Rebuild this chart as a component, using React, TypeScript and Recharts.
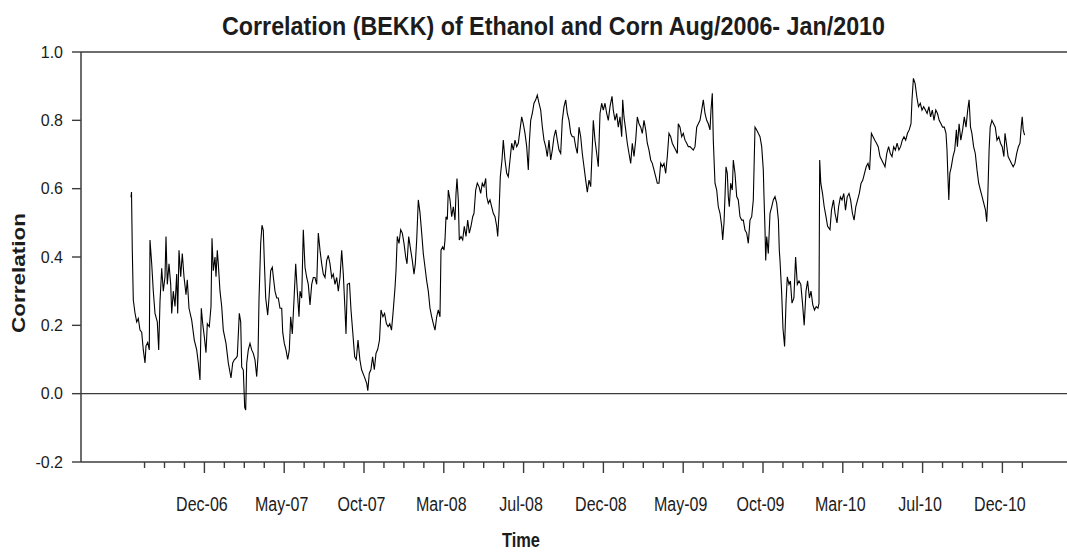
import React from 'react';
import { LineChart, Line, XAxis, YAxis, ReferenceLine } from 'recharts';

// Observation position (trading-day offset from first observation, Aug-2006)
const obsDay: number[] = [
  0, 0.5, 1.3, 2.3, 4, 5.7, 7.3, 9, 10.7, 12.3, 14, 15, 16.7, 18.3, 19, 20.7, 22.3, 24, 26.3, 27.7,
  29, 30.7, 32.3, 34, 35, 36.3, 38, 39.7, 40.7, 42.3, 44, 45.7, 46.7, 48, 49.7, 51.3, 53, 55, 56.3, 58,
  60.7, 63.3, 65.7, 67.3, 69, 70.3, 71.7, 73.3, 75, 76.3, 78.3, 80, 81, 82.3, 84, 85, 86.3, 87.3, 89, 90.7,
  92.3, 95, 97.3, 100, 101.7, 103.3, 105, 106.3, 108.3, 109.7, 110.7, 112.3, 113.7, 114.7, 115.7, 117.3, 119, 120.7, 122.3, 124,
  125.7, 127, 128, 129.7, 131, 132.3, 133.3, 134.7, 136.7, 138, 139.7, 141.3, 142.3, 144, 145.7, 147.3, 149, 150.7, 151.7, 153.3,
  155, 156.7, 158.3, 159.7, 161.3, 163, 164.7, 166.3, 168, 169, 170.7, 172.3, 174, 175.7, 177.3, 179, 180.7, 182.3, 184, 185.7,
  187.3, 189, 190.7, 192.3, 194, 195.7, 197.3, 199, 200.7, 202.3, 204, 205.7, 207.3, 209, 210.7, 212.3, 214, 215, 216.3, 218.5,
  220, 223.7, 225.3, 227, 228.9, 230.6, 233.3, 235.7, 236.8, 238.3, 239.9, 241.6, 243.3, 245, 246.7, 248.5, 250, 251.9, 253.6, 255.4,
  257.1, 258.8, 260.5, 262, 264, 265, 266.3, 268, 269.7, 271.3, 273, 274.7, 276, 277.7, 279.7, 281.3, 283, 284.3, 285.7, 287.3,
  289, 290.7, 292.3, 294, 295.7, 297.3, 299, 300.7, 302.3, 304, 305.7, 307.3, 309, 310, 311.7, 313, 314, 315, 316.3, 317.3,
  319, 320.7, 322.3, 324, 325, 326, 327.3, 328.3, 330, 331.7, 333.3, 335, 336.7, 338.3, 340, 341.7, 343, 344.7, 346.3, 348,
  349.7, 351.3, 353, 354.7, 355.7, 357.3, 359, 360.7, 362.3, 364, 365.7, 366.7, 368, 369.3, 371, 372.3,
  374, 375.7, 377.3, 379, 380.7, 382.3, 384, 385.7, 387.3, 389, 390.7, 392.3, 394, 395.7, 397.3, 398.3, 399.7, 401.3, 403, 404.7,
  406.3, 408, 409.7, 411.3, 413, 414.7, 416.3, 418, 419.7, 421.3, 423, 424.7, 426.3, 428, 429.7, 431.3, 433, 434.7, 436.3, 438,
  439.7, 441.3, 443, 444.7, 446.3, 448, 449.7, 451.3, 453, 454.7, 456.3, 458, 459.7, 461.3, 462.3, 464, 465.7, 467.3, 469, 470.7,
  472.3, 474, 475.7, 477.3, 479, 481, 482.3, 484, 485.7, 487.3, 489, 490.7, 491.7, 493, 494.7, 496.3, 498, 499.7, 501.3, 503,
  504.7, 506.3, 508, 509.7, 511.3, 513, 514.7, 516.3, 518, 519.7, 521.3, 523, 524.7, 526.3, 528, 529.7, 531.3, 533, 534.7, 536.3,
  538, 539.7, 541.3, 543, 544.7, 546.3, 547.3, 549, 550.7, 552.3, 554, 555.7, 557.3, 559, 560.7, 562.3, 564, 565.7, 567.3, 569,
  570.7, 572.3, 574, 575.7, 577.3, 579, 580, 581.3, 582.3, 584, 585.7, 587.3, 589, 590.7, 591.7, 593, 594, 595, 596.3, 597.3,
  598.3, 599.7, 601.3, 602.3, 604, 605.7, 607.3, 609, 610.7, 612.3, 614, 615.7, 617.3, 619, 620.7, 622.3, 624, 625.7, 627.3, 629,
  630.7, 632.3, 633, 634, 634.7, 635.7, 637.3, 639, 640.7, 642.3, 644, 645.7, 647.4, 648.3, 649, 650.6, 652, 653.6, 655, 656.3,
  658, 659.4, 661, 662.9, 664.6, 666.3, 668, 669.8, 671.5, 673.2, 675, 676.6, 678.4, 680, 681.8, 683.5, 685.2, 687, 688, 688.7,
  689.8, 691.5, 693.2, 695, 696.6, 699, 700.5, 702.5, 704, 706, 707.6, 709.4, 711, 712.8, 714.5, 716.2, 718, 719.6, 721.4, 723.1,
  724.8, 726.6, 728.3, 730, 731.8, 733.5, 735.2, 737, 738.6, 740.4, 742.1, 743.8, 745.5, 747.2, 749, 750.7, 752.4, 754, 755.8, 757.6,
  759.3, 761, 762.7, 764.4, 766.1, 767.9, 769.6, 771.3, 773, 774.7, 776.5, 778.2, 780, 781, 782.4, 784.1, 785.8, 787.5, 789.3, 791,
  792.7, 794.4, 796.1, 797.9, 799.6, 801.3, 803, 804.8, 806.5, 808.2, 810, 811.6, 813.3, 815, 816, 816.8, 817.8, 818.8, 820.3, 822,
  823.7, 825.4, 826.4, 828.1, 829.8, 831.6, 833.3, 835, 836.7, 838.1, 839.5, 840.9, 842.6, 844.3, 846, 847.7, 849.4, 851.1, 852.8, 854.5,
  855.7, 856.7, 858.1, 859.2, 860.9, 862.6, 864.3, 866, 867.8, 869.5, 871.2, 872.9, 874, 875.4, 877.1, 878.8, 880.5, 882.2, 883.9, 885.7,
  887.4, 889, 890.2, 891.2, 892.2, 893.6,
];

// BEKK conditional correlation of ethanol and corn
const bekkCorr: number[] = [
  0.575, 0.59, 0.42, 0.274, 0.236, 0.21, 0.22, 0.186, 0.18, 0.128, 0.09, 0.14, 0.15, 0.128, 0.45, 0.38, 0.30, 0.235, 0.21, 0.128,
  0.27, 0.367, 0.30, 0.342, 0.46, 0.32, 0.38, 0.32, 0.235, 0.30, 0.255, 0.35, 0.235, 0.42, 0.342, 0.41, 0.342, 0.29, 0.333, 0.25,
  0.215, 0.157, 0.128, 0.09, 0.04, 0.25, 0.205, 0.167, 0.12, 0.205, 0.196, 0.255, 0.455, 0.36, 0.40, 0.342, 0.42, 0.38, 0.30, 0.255,
  0.186, 0.147, 0.09, 0.046, 0.09, 0.099, 0.104, 0.11, 0.235, 0.21, 0.078, 0.069, -0.04, -0.048, 0.089, 0.128, 0.147, 0.128, 0.118, 0.099,
  0.05, 0.108, 0.274, 0.44, 0.493, 0.478, 0.39, 0.28, 0.23, 0.28, 0.36, 0.37, 0.342, 0.30, 0.28, 0.28, 0.25, 0.25, 0.18, 0.147,
  0.128, 0.10, 0.128, 0.225, 0.175, 0.274, 0.38, 0.30, 0.225, 0.30, 0.28, 0.48, 0.37, 0.34, 0.32, 0.26, 0.32, 0.34, 0.34, 0.32,
  0.47, 0.42, 0.38, 0.35, 0.34, 0.39, 0.405, 0.38, 0.34, 0.35, 0.32, 0.34, 0.30, 0.34, 0.42, 0.35, 0.245, 0.175, 0.32, 0.323,
  0.245, 0.108, 0.10, 0.157, 0.099, 0.07, 0.05, 0.03, 0.009, 0.06, 0.07, 0.108, 0.07, 0.118, 0.13, 0.157, 0.245, 0.225, 0.235, 0.205,
  0.196, 0.205, 0.186, 0.235, 0.31, 0.36, 0.46, 0.44, 0.48, 0.47, 0.44, 0.40, 0.38, 0.46, 0.42, 0.39, 0.35, 0.38, 0.45, 0.567,
  0.53, 0.47, 0.41, 0.37, 0.33, 0.30, 0.25, 0.225, 0.205, 0.186, 0.225, 0.245, 0.225, 0.42, 0.43, 0.42, 0.45, 0.518, 0.51, 0.596,
  0.567, 0.518, 0.547, 0.508, 0.586, 0.63, 0.567, 0.45, 0.46, 0.45, 0.49, 0.46, 0.508, 0.47, 0.49, 0.518, 0.528, 0.596, 0.616, 0.606,
  0.586, 0.616, 0.606, 0.63, 0.577, 0.557, 0.567, 0.547, 0.528, 0.518, 0.49, 0.46, 0.528, 0.635, 0.684, 0.742,
  0.684, 0.645, 0.635, 0.684, 0.733, 0.713, 0.742, 0.723, 0.733, 0.772, 0.81, 0.79, 0.762, 0.723, 0.655, 0.733, 0.80, 0.82, 0.85, 0.86,
  0.874, 0.85, 0.83, 0.782, 0.742, 0.723, 0.694, 0.742, 0.684, 0.713, 0.752, 0.772, 0.742, 0.713, 0.703, 0.80, 0.84, 0.86, 0.82, 0.80,
  0.762, 0.752, 0.752, 0.723, 0.703, 0.78, 0.752, 0.703, 0.664, 0.625, 0.59, 0.625, 0.606, 0.723, 0.80, 0.742, 0.703, 0.664, 0.82, 0.85,
  0.83, 0.85, 0.82, 0.80, 0.84, 0.87, 0.83, 0.80, 0.82, 0.78, 0.81, 0.752, 0.86, 0.81, 0.772, 0.733, 0.703, 0.674, 0.733, 0.694,
  0.742, 0.81, 0.79, 0.78, 0.762, 0.80, 0.772, 0.733, 0.713, 0.684, 0.674, 0.655, 0.635, 0.616, 0.616, 0.674, 0.664, 0.674, 0.645, 0.694,
  0.762, 0.752, 0.733, 0.723, 0.713, 0.703, 0.79, 0.78, 0.752, 0.762, 0.742, 0.733, 0.723, 0.723, 0.718, 0.713, 0.723, 0.78, 0.79, 0.80,
  0.83, 0.86, 0.82, 0.80, 0.79, 0.772, 0.83, 0.879, 0.742, 0.616, 0.596, 0.547, 0.528, 0.49, 0.45, 0.50, 0.577, 0.664, 0.645, 0.577,
  0.547, 0.616, 0.596, 0.684, 0.645, 0.577, 0.567, 0.518, 0.508, 0.508, 0.479, 0.47, 0.44, 0.508, 0.518, 0.567, 0.78, 0.772, 0.762, 0.752,
  0.723, 0.655, 0.577, 0.48, 0.39, 0.46, 0.41, 0.528, 0.547, 0.567, 0.577, 0.557, 0.508, 0.42, 0.39, 0.30, 0.19, 0.138, 0.265, 0.342,
  0.32, 0.33, 0.265, 0.28, 0.40, 0.32, 0.33, 0.32, 0.265, 0.20, 0.30, 0.33, 0.28, 0.30, 0.26, 0.245, 0.255, 0.25, 0.265, 0.684,
  0.616, 0.586, 0.547, 0.518, 0.49, 0.48, 0.537, 0.567, 0.528, 0.50, 0.547, 0.576, 0.567, 0.586, 0.537, 0.576, 0.586, 0.567, 0.528, 0.508,
  0.547, 0.567, 0.586, 0.615, 0.625, 0.645, 0.664, 0.674, 0.655, 0.762, 0.752, 0.742, 0.733, 0.723, 0.694, 0.684, 0.674, 0.664, 0.703, 0.723,
  0.703, 0.694, 0.723, 0.713, 0.733, 0.713, 0.723, 0.742, 0.752, 0.742, 0.762, 0.772, 0.79, 0.86, 0.923, 0.908, 0.869, 0.84, 0.85, 0.83,
  0.84, 0.83, 0.82, 0.84, 0.81, 0.83, 0.80, 0.83, 0.82, 0.80, 0.79, 0.78, 0.78, 0.762, 0.713, 0.645, 0.567, 0.645, 0.664, 0.694,
  0.713, 0.772, 0.723, 0.79, 0.742, 0.772, 0.81, 0.78, 0.83, 0.86, 0.78, 0.762, 0.723, 0.703, 0.655, 0.616, 0.596, 0.577, 0.557, 0.537,
  0.503, 0.567, 0.713, 0.78, 0.80, 0.79, 0.78, 0.742, 0.752, 0.733, 0.723, 0.694, 0.762, 0.733, 0.694, 0.684, 0.674, 0.664, 0.674, 0.703,
  0.723, 0.733, 0.78, 0.81, 0.772, 0.757,
];

const yTicks: number[] = [-0.2, 0, 0.2, 0.4, 0.6, 0.8, 1.0];
const majorLabels: string[] = ['Dec-06', 'May-07', 'Oct-07', 'Mar-08', 'Jul-08', 'Dec-08', 'May-09', 'Oct-09', 'Mar-10', 'Jul-10', 'Dec-10'];

// monthly tick marks (trading-day offsets); every 4th from the 4th carries a label
const TICK_START = 13.55;
const TICK_STEP = 19.95;
const TICK_COUNT = 45;
const xTicks: number[] = Array.from({ length: TICK_COUNT }, (_, k) => +(TICK_START + k * TICK_STEP).toFixed(2));

const data = obsDay.map((d, i) => ({ d, v: bekkCorr[i] }));

const FONT = '"Liberation Sans", Arial, Helvetica, sans-serif';
const AXIS = '#3c3c3c';
const TEXT = '#1c1c1c';

const XTick = (props: any) => {
  const { x, y, payload } = props;
  const k = Math.round((payload.value - TICK_START) / TICK_STEP);
  const isMajor = k >= 3 && (k - 3) % 4 === 0;
  const label = isMajor ? majorLabels[(k - 3) / 4] : null;
  return (
    <g>
      <line x1={x} x2={x} y1={y} y2={y + (isMajor ? 11 : 6)} stroke={AXIS} strokeWidth={1.4} />
      {label && (
        <g transform={`translate(${x - 2.5},${y + 48.7}) scale(0.8,1)`}>
          <text x={0} y={0} textAnchor="middle" fontSize={20} fontFamily={FONT} fill={TEXT}>
            {label}
          </text>
        </g>
      )}
    </g>
  );
};

export default function App() {
  return (
    <div style={{ position: 'absolute', left: 0, top: 0, width: 1067, height: 552, background: '#fff' }}>
      <LineChart width={1067} height={552} data={data} margin={{ top: 52, right: 0, bottom: 60, left: 0 }}>
        <XAxis
          dataKey="d"
          type="number"
          domain={[-50, 936]}
          ticks={xTicks}
          interval={0}
          allowDataOverflow
          height={30}
          tickSize={0}
          tickMargin={0}
          tickLine={false}
          axisLine={{ stroke: AXIS, strokeWidth: 1.5 }}
          tick={<XTick />}
        />
        <YAxis
          type="number"
          domain={[-0.2, 1.0]}
          ticks={yTicks}
          interval={0}
          width={81}
          tickSize={9}
          tickMargin={9}
          tickFormatter={(v: number) => v.toFixed(1)}
          tick={{ fill: TEXT, fontSize: 16, fontFamily: FONT }}
          tickLine={{ stroke: AXIS, strokeWidth: 1.4 }}
          axisLine={{ stroke: AXIS, strokeWidth: 1.5 }}
          allowDataOverflow
        />
        <ReferenceLine y={0} stroke={AXIS} strokeWidth={1.4} />
        <ReferenceLine y={1.0} stroke={AXIS} strokeWidth={1.5} />
        <Line
          type="linear"
          dataKey="v"
          stroke="#000"
          strokeWidth={1.1}
          dot={false}
          activeDot={false}
          isAnimationActive={false}
        />
      </LineChart>
      <svg width={1067} height={552} style={{ position: 'absolute', left: 0, top: 0, pointerEvents: 'none' }}>
        <text x={553.5} y={35} textAnchor="middle" fontSize={25} fontWeight="bold" fontFamily={FONT} fill={TEXT}
          textLength={663} lengthAdjust="spacingAndGlyphs">
          Correlation (BEKK) of Ethanol and Corn Aug/2006- Jan/2010
        </text>
        <text x={25} y={273} transform="rotate(-90 25 273)" textAnchor="middle" fontSize={18} fontWeight="bold"
          fontFamily={FONT} fill={TEXT} textLength={120} lengthAdjust="spacingAndGlyphs">
          Correlation
        </text>
        <text x={521} y={546.5} textAnchor="middle" fontSize={20} fontWeight="bold" fontFamily={FONT} fill={TEXT}
          textLength={38} lengthAdjust="spacingAndGlyphs">
          Time
        </text>
      </svg>
    </div>
  );
}
